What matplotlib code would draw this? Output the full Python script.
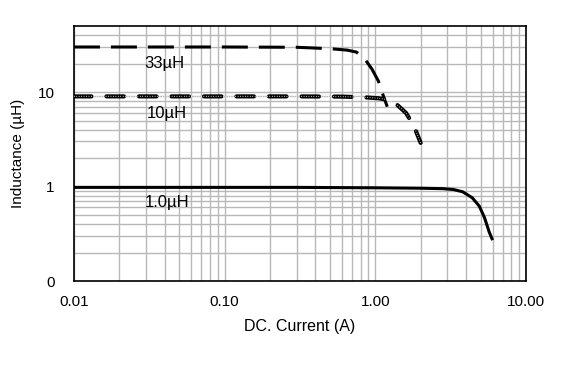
import matplotlib
matplotlib.use('Agg')
import matplotlib.pyplot as plt
from matplotlib.ticker import FixedLocator, NullFormatter

# ── Data (current in A, inductance in µH) ──────────────────────────────────
i_33 = [0.01, 0.1, 0.3, 0.5, 0.65, 0.75, 0.85, 0.95, 1.05, 1.12, 1.2]
l_33 = [30, 30, 29.8, 28.8, 27.8, 26.5, 22.5, 17.5, 13, 9.5, 7]

i_10 = [0.01, 0.3, 0.6, 0.85, 1.05, 1.2, 1.4, 1.6, 1.8, 2.0]
l_10 = [9.0, 9.0, 8.95, 8.8, 8.6, 8.3, 7.3, 6.0, 4.4, 2.9]

i_1 = [0.01, 0.3, 1.0, 2.0, 2.8, 3.3, 3.8, 4.4, 4.9, 5.3, 5.7, 5.95]
l_1 = [0.98, 0.98, 0.97, 0.96, 0.95, 0.93, 0.88, 0.76, 0.62, 0.47, 0.33, 0.28]

x_ticks = [0.01, 0.1, 1, 10]
x_labels = ['0.01', '0.10', '1.00', '10.00']
y_ticks = [0.1, 1, 10]
y_labels = ['0', '1', '10']

plt.rcParams['font.family'] = ['Liberation Sans', 'DejaVu Sans']

fig = plt.figure(figsize=(5.77, 3.72), dpi=100)
ax = fig.add_axes([0.1282, 0.2446, 0.7834, 0.6854])

ax.set_xscale('log')
ax.set_yscale('log')
ax.set_xlim(0.01, 10)
ax.set_ylim(0.1, 50)

# grid: every major + minor line in light grey
minor_x = [m * d for d in (0.01, 0.1, 1) for m in range(2, 10)]
minor_y = [m * d for d in (0.1, 1) for m in range(2, 10)] + [20, 30, 40]
ax.xaxis.set_minor_locator(FixedLocator(minor_x))
ax.yaxis.set_minor_locator(FixedLocator(minor_y))
ax.xaxis.set_minor_formatter(NullFormatter())
ax.yaxis.set_minor_formatter(NullFormatter())
ax.grid(True, which='both', color='#b8b8b8', linewidth=1.0, zorder=0)
ax.set_axisbelow(True)

ax.set_xticks(x_ticks, x_labels)
ax.set_yticks(y_ticks, y_labels)
ax.tick_params(which='both', length=0)
ax.tick_params(axis='x', pad=10, labelsize=11)
ax.tick_params(axis='y', pad=14, labelsize=11)

for sp in ax.spines.values():
    sp.set_color('black')
    sp.set_linewidth(1.2)

# curves
ax.plot(i_33, l_33, color='black', linewidth=2.2, dashes=(8.5, 3.6),
        solid_capstyle='butt', zorder=3)
ax.plot(i_10, l_10, color='black', linewidth=3.0, dashes=(4.2, 3.6),
        dash_capstyle='round', zorder=3)
ax.plot(i_10, l_10, color='white', linewidth=0.8, dashes=(0.6, 1.6),
        zorder=4)
ax.plot(i_1, l_1, color='black', linewidth=2.2, zorder=3)

ax.text(0.0295, 19.9, '33µH', ha='left', va='center', fontsize=12)
ax.text(0.0305, 5.98, '10µH', ha='left', va='center', fontsize=12)
ax.text(0.0295, 0.676, '1.0µH', ha='left', va='center', fontsize=12)

ax.set_xlabel('DC. Current (A)', fontsize=11.5, labelpad=7)
ax.set_ylabel('Inductance (µH)', fontsize=11, labelpad=9)

fig.savefig('out.png', dpi=100, facecolor='white')
